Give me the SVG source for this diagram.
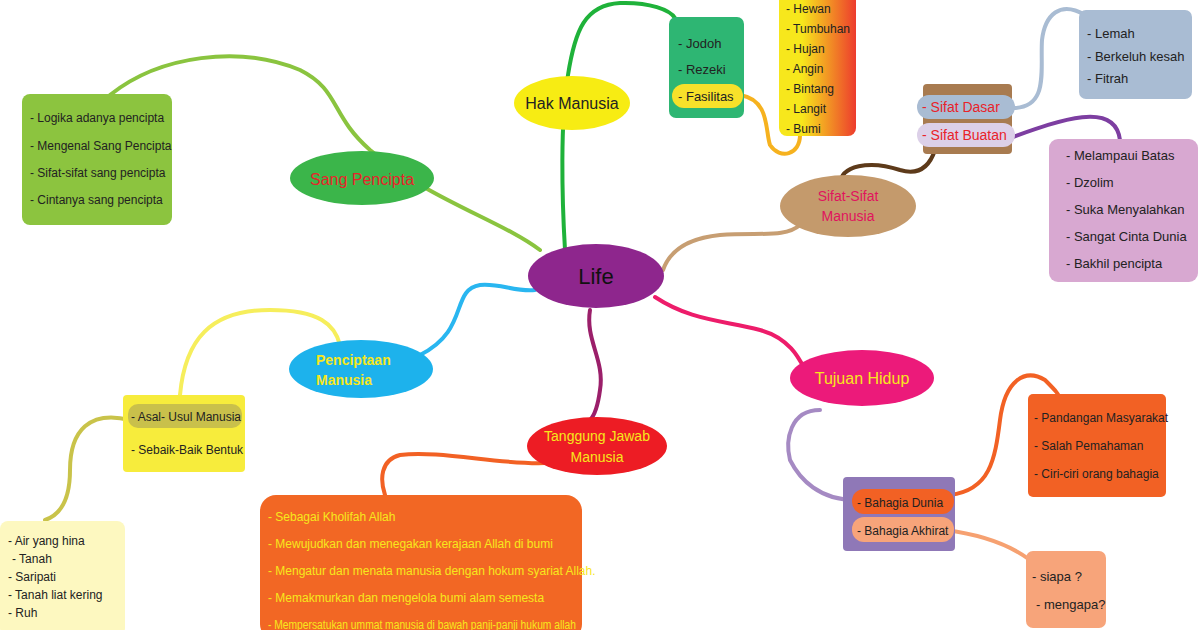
<svg xmlns="http://www.w3.org/2000/svg" width="1200" height="630" viewBox="0 0 1200 630">
<style>
text{font-family:"Liberation Sans",Arial,sans-serif;font-size:13px;fill:#222}
.c{fill:none;stroke-width:4;stroke-linecap:round}
.t{font-size:12px}
.s{font-size:12px}
.o{font-size:12px;fill:#f7e71c}
</style>
<rect width="1200" height="630" fill="#fff"/>
<g id="connectors">
<path class="c" stroke="#8ac43f" d="M540,250 C500,220 430,200 370,150 C330,115 340,90 300,70 C240,45 160,55 110,95"/>
<path class="c" stroke="#1fb23a" d="M565,250 C562,200 560,120 568,75 C575,30 585,5 620,3 C650,2 670,10 675,18"/>
<path class="c" stroke="#f6b21f" d="M740,95 C770,100 765,130 770,145 C780,160 800,155 800,135"/>
<path class="c" stroke="#c79e72" d="M663,270 C670,250 690,238 720,235 C760,232 785,238 800,225"/>
<path class="c" stroke="#5d3a1a" d="M840,185 C840,165 870,160 900,170 C920,176 930,165 935,150"/>
<path class="c" stroke="#a9bcd3" d="M1010,108 C1050,110 1040,70 1042,40 C1045,15 1060,0 1085,15"/>
<path class="c" stroke="#7d3ea1" d="M1010,138 C1060,120 1115,100 1120,140"/>
<path class="c" stroke="#29b6f0" d="M420,355 C470,330 450,290 480,285 C500,283 515,292 535,290"/>
<path class="c" stroke="#f6ee5c" d="M340,345 C335,325 320,310 270,310 C210,310 185,340 180,395"/>
<path class="c" stroke="#c9c34a" d="M130,420 C90,410 70,430 70,470 C70,500 60,515 45,520"/>
<path class="c" stroke="#ed1c6a" d="M655,297 C690,320 720,320 760,330 C790,338 800,360 805,370"/>
<path class="c" stroke="#a58ac3" d="M820,410 C790,410 785,440 790,460 C800,480 820,500 855,500"/>
<path class="c" stroke="#f26124" d="M950,495 C990,490 995,460 1000,420 C1005,380 1025,368 1045,380 C1055,390 1060,395 1060,400"/>
<path class="c" stroke="#f6a171" d="M945,530 C985,535 1010,545 1030,560"/>
<path class="c" stroke="#9b1f6a" d="M590,310 C585,340 605,360 600,390 C598,405 595,415 590,420"/>
<path class="c" stroke="#f26124" d="M545,463 C500,465 440,450 400,455 C380,460 380,480 385,495"/>
</g>
<g id="life"><ellipse cx="596" cy="276" rx="68" ry="32" fill="#8e268d"/><text x="596" y="284" text-anchor="middle" style="font-size:22px;fill:#111">Life</text></g>
<g id="sang-pencipta"><ellipse cx="362" cy="178" rx="72" ry="27" fill="#3bb54a"/><text x="362" y="185" text-anchor="middle" style="font-size:16px;fill:#e8232a">Sang Pencipta</text></g>
<g id="sang-list"><rect x="22" y="94" width="150" height="131" rx="8" fill="#8cc43f"/>
<text class="s" x="30" y="122">- Logika adanya pencipta</text><text class="s" x="30" y="150">- Mengenal Sang Pencipta</text><text class="s" x="30" y="177">- Sifat-sifat sang pencipta</text><text class="s" x="30" y="204">- Cintanya sang pencipta</text></g>
<g id="hak"><ellipse cx="572" cy="103" rx="58" ry="27" fill="#f7ec13"/><text x="572" y="109" text-anchor="middle" style="font-size:16px">Hak Manusia</text></g>
<g id="hak-list"><rect x="669" y="17" width="75" height="101" rx="7" fill="#2eb673"/>
<text x="678" y="48">-  Jodoh</text><text x="678" y="74">-  Rezeki</text><rect x="672" y="84" width="71" height="24" rx="12" fill="#f7e12a"/><text x="678" y="101">-   Fasilitas</text></g>
<g id="fasilitas"><defs><linearGradient id="g1"><stop offset="0.3" stop-color="#f7e71c"/><stop offset="1" stop-color="#ed3c2d"/></linearGradient></defs>
<rect x="779" y="-10" width="77" height="146" rx="8" fill="url(#g1)"/>
<text class="t" x="786" y="13">-  Hewan</text><text class="t" x="786" y="33">- Tumbuhan</text><text class="t" x="786" y="53">- Hujan</text><text class="t" x="786" y="73">- Angin</text><text class="t" x="786" y="93">- Bintang</text><text class="t" x="786" y="113">- Langit</text><text class="t" x="786" y="133">- Bumi</text></g>
<g id="sifat"><ellipse cx="848" cy="206" rx="68" ry="31" fill="#c49a6c"/><text x="848" y="201" text-anchor="middle" style="font-size:14px;fill:#e0145e">Sifat-Sifat</text><text x="848" y="221" text-anchor="middle" style="font-size:14px;fill:#e0145e">Manusia</text></g>
<g id="sifat-box"><rect x="923" y="84" width="89" height="70" rx="4" fill="#a87b50"/>
<rect x="917" y="95" width="98" height="24" rx="12" fill="#a9bcd3"/><text x="922" y="112" style="font-size:14px;fill:#e8232a">-  Sifat Dasar</text>
<rect x="917" y="123" width="98" height="24" rx="12" fill="#dcd0e8"/><text x="922" y="140" style="font-size:14px;fill:#e8232a">-  Sifat Buatan</text></g>
<g id="dasar-list"><rect x="1079" y="10" width="113" height="89" rx="7" fill="#a9bcd3"/>
<text x="1087" y="38">- Lemah</text><text x="1087" y="61">-  Berkeluh kesah</text><text x="1087" y="83">-  Fitrah</text></g>
<g id="buatan-list"><rect x="1049" y="139" width="149" height="143" rx="9" fill="#d8a8d1"/>
<text x="1066" y="160">- Melampaui Batas</text><text x="1066" y="187">- Dzolim</text><text x="1066" y="214">- Suka Menyalahkan</text><text x="1066" y="241">- Sangat Cinta Dunia</text><text x="1066" y="268">- Bakhil  pencipta</text></g>
<g id="penciptaan"><ellipse cx="361" cy="369" rx="72" ry="29" fill="#1db2ec"/><text x="316" y="365" style="font-size:14px;font-weight:bold;fill:#f7e71c">Penciptaan</text><text x="316" y="385" style="font-size:14px;font-weight:bold;fill:#f7e71c">Manusia</text></g>
<g id="asal"><rect x="123" y="395" width="122" height="77" rx="4" fill="#f7ec3c"/>
<rect x="128" y="404" width="114" height="24" rx="10" fill="#c9c04b"/><text class="s" x="131" y="421">- Asal- Usul Manusia</text><text class="s" x="131" y="454">-  Sebaik-Baik Bentuk</text></g>
<g id="asal-list"><rect x="0" y="521" width="125" height="115" rx="8" fill="#fdf8c0"/>
<text class="t" x="8" y="545">- Air yang hina</text><text class="t" x="12" y="563">- Tanah</text><text class="t" x="8" y="581">- Saripati</text><text class="t" x="8" y="599">- Tanah liat kering</text><text class="t" x="8" y="617">- Ruh</text></g>
<g id="tanggung"><ellipse cx="597" cy="446" rx="70" ry="29" fill="#ed1c24"/><text x="597" y="441" text-anchor="middle" style="font-size:14px;fill:#f7e71c">Tanggung Jawab</text><text x="597" y="462" text-anchor="middle" style="font-size:14px;fill:#f7e71c">Manusia</text></g>
<g id="tanggung-list"><rect x="260" y="495" width="322" height="145" rx="16" fill="#f26724"/>
<text class="o" x="268" y="521">-  Sebagai Kholifah Allah</text><text class="o" x="268" y="548">-  Mewujudkan dan menegakan kerajaan Allah di bumi</text><text class="o" x="268" y="575">-   Mengatur dan menata manusia dengan hokum syariat Allah.</text><text class="o" x="268" y="602">-  Memakmurkan  dan mengelola bumi alam semesta</text><text class="o" x="268" y="629" textLength="308" lengthAdjust="spacingAndGlyphs">-  Mempersatukan ummat manusia di bawah panji-panji hukum allah</text></g>
<g id="tujuan"><ellipse cx="862" cy="378" rx="72" ry="28" fill="#ec1a7a"/><text x="862" y="384" text-anchor="middle" style="font-size:16px;fill:#f7e71c">Tujuan Hidup</text></g>
<g id="bahagia"><rect x="843" y="477" width="112" height="74" rx="4" fill="#8f78b7"/>
<rect x="852" y="489" width="102" height="25" rx="12" fill="#f26124"/><text x="857" y="507" class="s">- Bahagia Dunia</text>
<rect x="852" y="517" width="102" height="25" rx="12" fill="#f7a47a"/><text x="857" y="535" class="s">-  Bahagia Akhirat</text></g>
<g id="dunia-list"><rect x="1028" y="394" width="138" height="103" rx="5" fill="#f26124"/>
<text class="s" x="1034" y="422">- Pandangan Masyarakat</text><text class="s" x="1034" y="450">- Salah Pemahaman</text><text class="s" x="1034" y="478">- Ciri-ciri orang bahagia</text></g>
<g id="akhirat-list"><rect x="1026" y="551" width="80" height="77" rx="7" fill="#f7a47a"/>
<text x="1032" y="581">- siapa ?</text><text x="1036" y="609">-  mengapa?</text></g>
</svg>
